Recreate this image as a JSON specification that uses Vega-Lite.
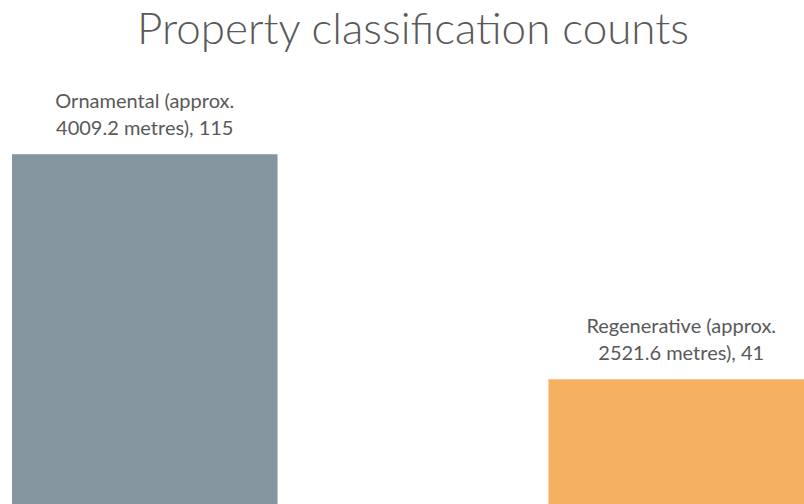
{
  "$schema": "https://vega.github.io/schema/vega-lite/v6.json",
  "width": 804,
  "height": 504,
  "padding": {"top": 9, "left": 0, "right": 0, "bottom": 0},
  "autosize": {"type": "fit", "contains": "padding"},
  "background": "white",
  "title": {
    "text": "Property classification counts",
    "font": "Lato",
    "fontSize": 44,
    "fontWeight": 300,
    "color": "#595959",
    "anchor": "middle",
    "dx": 16,
    "offset": 10
  },
  "config": {"view": {"stroke": null}},
  "data": {
    "values": [
      {"category": "Ornamental", "count": 115, "label": ["Ornamental (approx.", "4009.2 metres), 115"]},
      {"category": "Regenerative", "count": 41, "label": ["Regenerative (approx.", "2521.6 metres), 41"]}
    ]
  },
  "encoding": {
    "x": {
      "field": "category",
      "type": "nominal",
      "sort": null,
      "axis": null,
      "scale": {"range": [12, 814], "paddingInner": 0.505, "paddingOuter": 0}
    },
    "y": {
      "field": "count",
      "type": "quantitative",
      "axis": null,
      "scale": {"domain": [0, 145], "nice": false}
    }
  },
  "layer": [
    {
      "mark": {"type": "bar"},
      "encoding": {
        "color": {
          "field": "category",
          "type": "nominal",
          "legend": null,
          "scale": {"domain": ["Ornamental", "Regenerative"], "range": ["#85959F", "#F6B062"]}
        }
      }
    },
    {
      "mark": {"type": "text", "baseline": "alphabetic", "dy": -46, "font": "Lato", "fontSize": 20, "color": "#595959", "lineHeight": 27},
      "encoding": {"text": {"field": "label"}}
    }
  ]
}
